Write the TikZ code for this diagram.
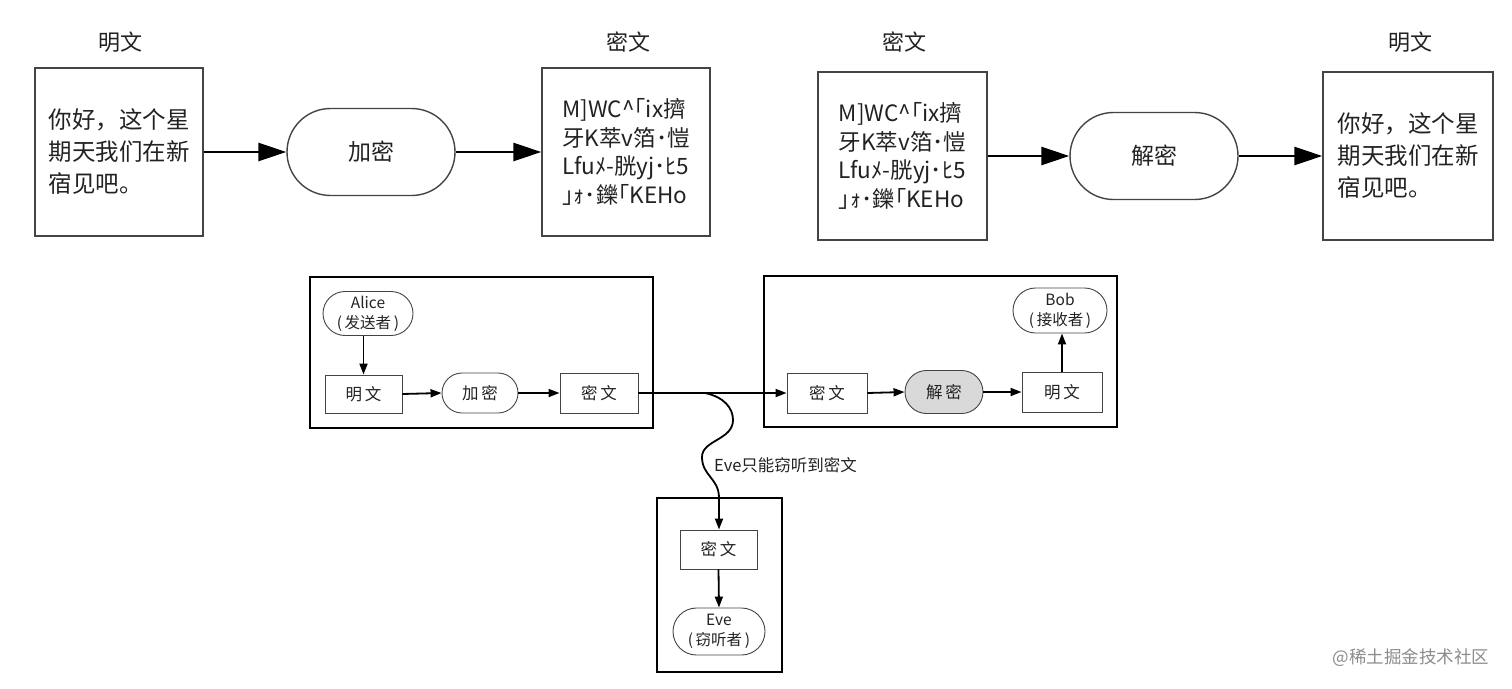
\documentclass[tikz,border=0pt]{standalone}
\usepackage{fontspec}
\setmainfont{Noto Sans CJK SC}
\usetikzlibrary{arrows.meta,shapes.misc}
\definecolor{ink}{HTML}{222222}
\definecolor{edge}{HTML}{444444}
\definecolor{capfill}{HTML}{D9D9D9}
\tikzset{
  lbl/.style={text=ink, font=\fontsize{22}{26}\selectfont, inner sep=0},
  bigbox/.style={draw=edge, line width=1.4pt, text=ink, align=left, inner sep=0,
    minimum width=168pt, minimum height=168pt},
  plaintxt/.style={bigbox, font=\fontsize{23.5}{32}\selectfont},
  ciphertxt/.style={bigbox, font=\fontsize{22.5}{28.5}\selectfont},
  bigcap/.style={draw=edge, line width=1.4pt, rounded rectangle, text=ink,
    minimum width=168pt, minimum height=87pt, inner sep=0, font=\fontsize{23}{28}\selectfont},
  bigarrow/.style={draw=black, line width=2.8pt, -{Triangle[length=28pt,width=18pt]}},
  grp/.style={draw=black, line width=2.2pt, inner sep=0},
  sbox/.style={draw=edge, line width=0.9pt, text=ink, inner sep=0,
    minimum width=78pt, minimum height=40pt, font=\fontsize{16.5}{18}\selectfont},
  scap/.style={sbox, rounded rectangle},
  actor/.style={draw=edge, line width=0.9pt, rounded rectangle, text=ink, align=center,
    inner sep=0, minimum height=44pt, font=\fontsize{15.5}{20}\selectfont},
  sarrow/.style={draw=black, line width=1.8pt, -{Triangle[length=11pt,width=8pt]}},
}
\begin{document}
\begin{tikzpicture}[x=1pt,y=-1pt]
\useasboundingbox (0,0) rectangle (1512,688);
\fill[white] (0,0) rectangle (1512,688);

% ---------- top row ----------
\node[lbl] (l1) at (120,42) {明文};
\node[lbl] (l2) at (628,42) {密文};
\node[lbl] (l3) at (904,42) {密文};
\node[lbl] (l4) at (1410,42) {明文};

\node[plaintxt] (p1) at (119,152) {你好，这个星\\期天我们在新\\宿见吧。};
\node[bigcap] (enc) at (371,152) {加密};
\node[ciphertxt] (c1) at (626,152) {M]WC\textasciicircum｢ix擠\\牙K萃v箔･愷\\Lfuﾒ-胱yj･ﾋ5\\｣ｫ･鑠｢KEHo};

\node[ciphertxt, minimum width=169pt] (c2) at (902.5,156) {M]WC\textasciicircum｢ix擠\\牙K萃v箔･愷\\Lfuﾒ-胱yj･ﾋ5\\｣ｫ･鑠｢KEHo};
\node[bigcap] (dec) at (1154,156) {解密};
\node[plaintxt, minimum width=170pt] (p2) at (1408,156) {你好，这个星\\期天我们在新\\宿见吧。};

\draw[bigarrow] (p1.east) -- (enc.west);
\draw[bigarrow] (enc.east) -- (c1.west);
\draw[bigarrow] (c2.east) -- (dec.west);
\draw[bigarrow] (dec.east) -- (p2.west);

% ---------- bottom: groups ----------
\node[grp, minimum width=343pt, minimum height=151pt] (ga) at (481.5,352.5) {};
\node[grp, minimum width=353pt, minimum height=151pt] (gb) at (940.5,351.5) {};
\node[grp, minimum width=125pt, minimum height=174pt] (ge) at (719.5,585) {};

% Alice side
\node[actor, minimum width=90pt] (alice) at (368,313.5) {Alice\\(\,发送者\,)};
\node[sbox, minimum width=77pt, minimum height=38pt] (am) at (363.5,394) {明\,文};
\node[scap, minimum width=76pt] (ae) at (480,393) {加\,密};
\node[sbox] (ac) at (599,393) {密\,文};

% Bob side
\node[sbox, minimum width=80pt] (bc) at (827,393) {密\,文};
\node[scap, fill=capfill, minimum height=43pt] (bd) at (944,392) {解\,密};
\node[sbox, minimum width=80pt] (bm) at (1062,392) {明\,文};
\node[actor, minimum width=94pt, minimum height=45pt] (bob) at (1060,310.5) {Bob\\(\,接收者\,)};

% Eve side
\node[sbox, minimum width=77pt, minimum height=39pt] (ec) at (718.5,549.5) {密\,文};
\node[actor, minimum width=92pt, minimum height=47pt] (eve) at (719,631.5) {Eve\\(\,窃听者\,)};

\coordinate (tap) at (705,393);

\draw[sarrow] (am.north |- alice.south) -- (am.north);
\draw[sarrow] (am.east) -- (ae.west);
\draw[sarrow] (ae.east) -- (ac.west);
\draw[sarrow] (ac.east) -- (bc.west);
\draw[sarrow] (bc.east) -- (bd.west);
\draw[sarrow] (bd.east) -- (bm.west |- bd.east);
\draw[sarrow] (bm.north) -- (bm.north |- bob.south);
\draw[sarrow] (tap) .. controls (724,397) and (733,408) .. (733,420)
  .. controls (733,440) and (702,440) .. (702,457)
  .. controls (702,476) and (719,478) .. (719,498) -- (ec.north -| 719,0);
\draw[sarrow] (ec.south) -- (eve.north);

\node[anchor=west, text=ink, font=\fontsize{16.5}{18}\selectfont, inner sep=0] (evelbl) at (714,465) {Eve只能窃听到密文};

\node[text=black!45, font=\fontsize{17.5}{20}\selectfont, inner sep=0] (wm) at (1411,658) {@稀土掘金技术社区};
\end{tikzpicture}
\end{document}
